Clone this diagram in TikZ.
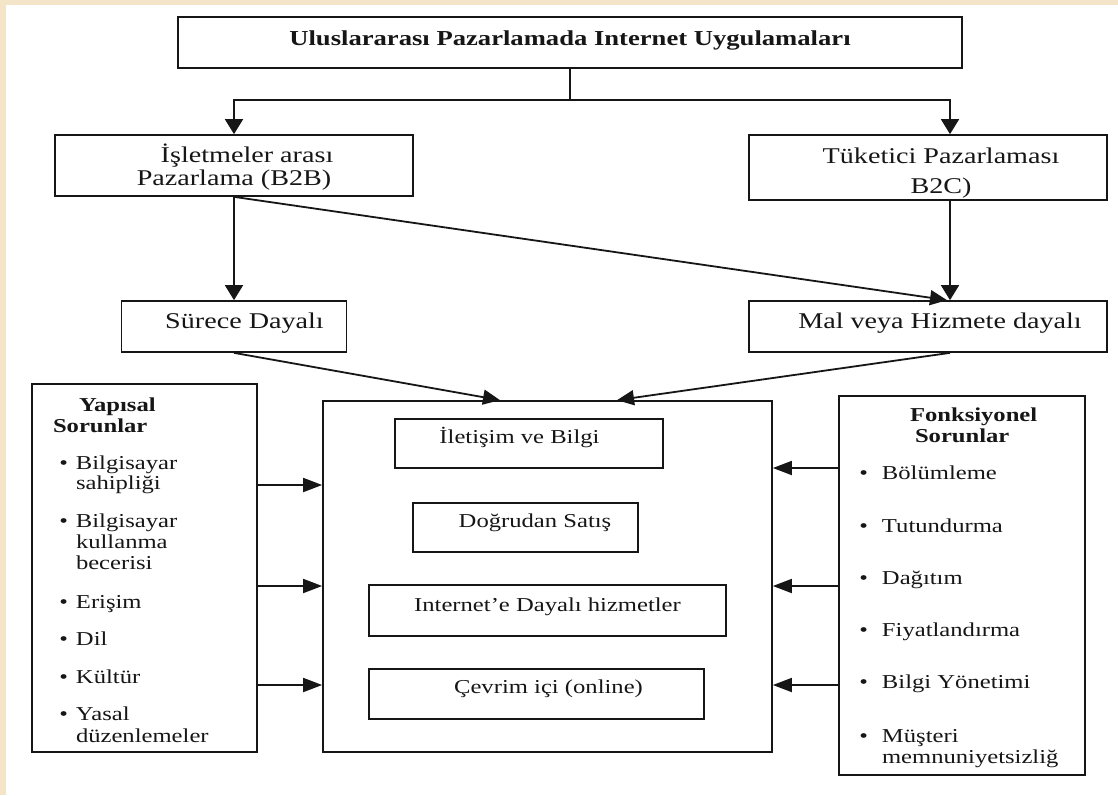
\documentclass[tikz,border=0pt]{standalone}
\usepackage{fontspec}
\setmainfont{Liberation Serif}[FakeStretch=1.25]
\usetikzlibrary{arrows.meta,calc}
\definecolor{cream}{RGB}{244,228,200}
\definecolor{ink}{RGB}{22,22,22}
\newcommand{\FontBig}{\fontsize{22.5}{27}\selectfont}
\newcommand{\FontSmall}{\fontsize{19.7}{23}\selectfont}
\newcommand{\FontTitle}{\fontsize{21.3}{25}\selectfont\bfseries}
\newcommand{\LBul}{\llap{\textbullet\hspace{8pt}}}
\newcommand{\RBul}{\llap{\textbullet\hspace{14pt}}}
\begin{document}
\begin{tikzpicture}[x=1pt,y=-1pt,
  box/.style={draw=ink, line width=1.7pt, inner sep=0pt, fill=white},
  lbl/.style={inner sep=0pt, outer sep=0pt, text=ink},
  big/.style={lbl, font=\FontBig, anchor=base},
  sml/.style={lbl, font=\FontSmall},
  line/.style={draw=ink, line width=1.8pt},
  varr/.style={line, -{Triangle[length=15pt,width=18pt]}},
  harr/.style={line, -{Triangle[length=19pt,width=14pt]}},
  darr/.style={line, -{Triangle[length=17pt,width=15pt]}}]
\useasboundingbox (0,0) rectangle (1118,795);
\fill[cream] (0,0) rectangle (1118,795);
\fill[white] (6,5) rectangle (1118,795);

% boxes
\node[box, minimum width=784pt, minimum height=51pt] (top) at (570,42.5) {};
\node[box, minimum width=358pt, minimum height=61pt] (b2b) at (234,165.5) {};
\node[box, minimum width=358pt, minimum height=65pt] (b2c) at (928,167.5) {};
\node[box, minimum width=225pt, minimum height=51pt] (sur) at (234,326.5) {};
\node[box, minimum width=358pt, minimum height=51pt] (mal) at (928,326.5) {};
\node[box, minimum width=225pt, minimum height=368pt] (left) at (144.5,568) {};
\node[box, minimum width=449pt, minimum height=351pt] (ctr) at (547.5,576.5) {};
\node[box, minimum width=246pt, minimum height=379pt] (right) at (962,585.5) {};
\node[box, minimum width=268pt, minimum height=49pt] (i1) at (529,443.5) {};
\node[box, minimum width=225pt, minimum height=49pt] (i2) at (525.5,527.5) {};
\node[box, minimum width=357pt, minimum height=51pt] (i3) at (547.5,610.5) {};
\node[box, minimum width=335pt, minimum height=50pt] (i4) at (536.5,694) {};

% texts
\node[lbl, font=\FontTitle, anchor=base] (ttop) at (570,45) {Uluslararası Pazarlamada Internet Uygulamaları};
\node[big] (tb2b1) at (247,162) {İşletmeler arası};
\node[big] (tb2b2) at (234,185) {Pazarlama (B2B)};
\node[big] (tb2c1) at (941,163) {Tüketici Pazarlaması};
\node[big] (tb2c2) at (941,193) {B2C)};
\node[big] (tsur) at (244.5,328) {Sürece Dayalı};
\node[big] (tmal) at (940,328) {Mal veya Hizmete dayalı};

\node[sml, anchor=base] (ti1) at (519.5,443) {İletişim ve Bilgi};
\node[sml, anchor=base] (ti2) at (535,527) {Doğrudan Satış};
\node[sml, anchor=base] (ti3) at (547.5,611) {Internet’e Dayalı hizmetler};
\node[sml, anchor=base] (ti4) at (548.5,693) {Çevrim içi (online)};

\node[sml, anchor=base west, font=\FontSmall\bfseries] (lh1) at (79,411) {Yapısal};
\node[sml, anchor=base west, font=\FontSmall\bfseries] (lh2) at (53,432) {Sorunlar};
\node[sml, anchor=base west] (l1a) at (76,469) {\LBul Bilgisayar};
\node[sml, anchor=base west] (l1b) at (76,489) {sahipliği};
\node[sml, anchor=base west] (l2a) at (76,527) {\LBul Bilgisayar};
\node[sml, anchor=base west] (l2b) at (76,548) {kullanma};
\node[sml, anchor=base west] (l2c) at (76,569) {becerisi};
\node[sml, anchor=base west] (l3) at (76,608) {\LBul Erişim};
\node[sml, anchor=base west] (l4) at (76,645) {\LBul Dil};
\node[sml, anchor=base west] (l5) at (76,683) {\LBul Kültür};
\node[sml, anchor=base west] (l6a) at (76,720) {\LBul Yasal};
\node[sml, anchor=base west] (l6b) at (76,742) {düzenlemeler};

\node[sml, anchor=base west, font=\FontSmall\bfseries] (rh1) at (910,421) {Fonksiyonel};
\node[sml, anchor=base west, font=\FontSmall\bfseries] (rh2) at (915,442) {Sorunlar};
\node[sml, anchor=base west] (r1) at (882,479) {\RBul Bölümleme};
\node[sml, anchor=base west] (r2) at (882,532) {\RBul Tutundurma};
\node[sml, anchor=base west] (r3) at (882,584) {\RBul Dağıtım};
\node[sml, anchor=base west] (r4) at (882,636) {\RBul Fiyatlandırma};
\node[sml, anchor=base west] (r5) at (882,688) {\RBul Bilgi Yönetimi};
\node[sml, anchor=base west] (r6a) at (882,742) {\RBul Müşteri};
\node[sml, anchor=base west] (r6b) at (882,763) {memnuniyetsizliğ};

% connectors
\coordinate (sp) at (570,100);
\draw[line] (top.south) -- (sp);
\draw[varr] (sp) -| (b2b.north);
\draw[varr] (sp) -| ([xshift=22pt]b2c.north);
\draw[varr] (b2b.south) -- (sur.north);
\draw[darr] (b2b.south) -- ([xshift=19pt]mal.north);
\draw[varr] ([xshift=22pt]b2c.south) -- ([xshift=22pt]mal.north);
\draw[darr] (sur.south) -- ([xshift=-47.5pt]ctr.north);
\draw[darr] ([xshift=22pt]mal.south) -- ([xshift=69.5pt]ctr.north);
\foreach \yy in {485,586,685}
  \draw[harr] (left.east |- 0,\yy) -- (ctr.west |- 0,\yy);
\foreach \yy in {468,586,685}
  \draw[harr] (right.west |- 0,\yy) -- (ctr.east |- 0,\yy);
\end{tikzpicture}
\end{document}
